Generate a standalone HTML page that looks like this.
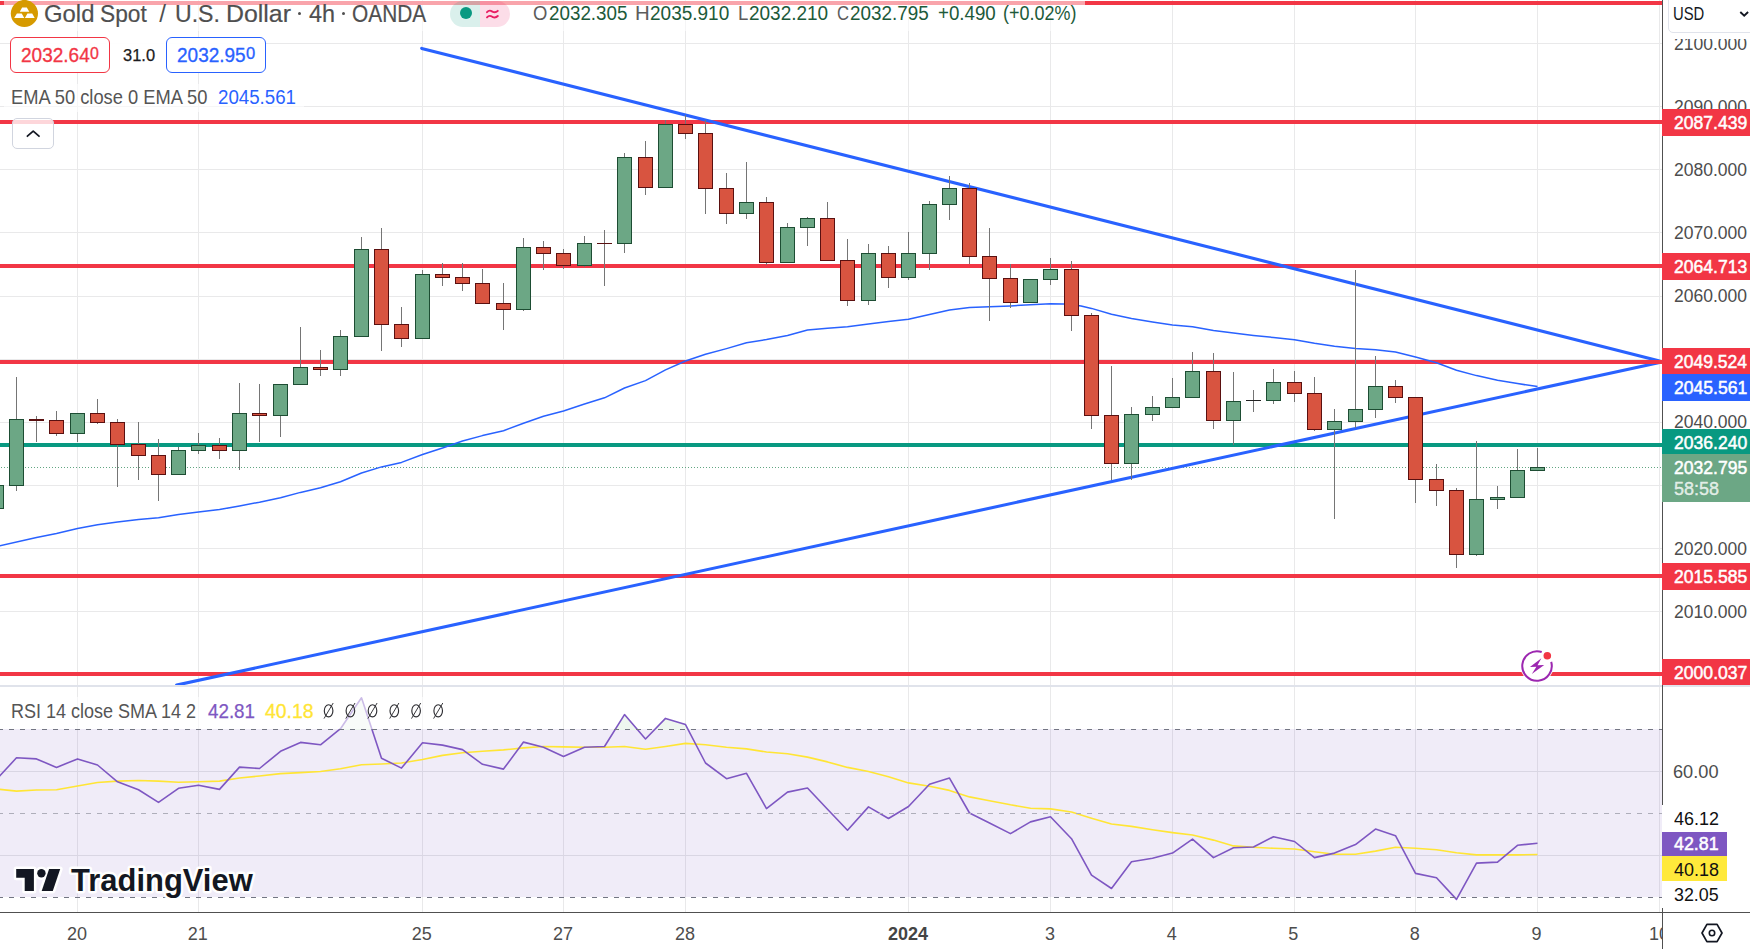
<!DOCTYPE html>
<html><head><meta charset="utf-8"><title>XAUUSD</title>
<style>
html,body{margin:0;padding:0;background:#fff;}
body{width:1750px;height:949px;overflow:hidden;position:relative;font-family:"Liberation Sans",sans-serif;}
#chart{position:absolute;left:0;top:0;}
.t{position:absolute;white-space:nowrap;transform-origin:0 0;}
</style></head><body>
<svg id="chart" width="1750" height="949" viewBox="0 0 1750 949">
<rect x="77" y="0" width="1" height="912" fill="#e9e9ea"/>
<rect x="198" y="0" width="1" height="912" fill="#e9e9ea"/>
<rect x="422" y="0" width="1" height="912" fill="#e9e9ea"/>
<rect x="563" y="0" width="1" height="912" fill="#e9e9ea"/>
<rect x="685" y="0" width="1" height="912" fill="#e9e9ea"/>
<rect x="908" y="0" width="1" height="912" fill="#e9e9ea"/>
<rect x="1050" y="0" width="1" height="912" fill="#e9e9ea"/>
<rect x="1172" y="0" width="1" height="912" fill="#e9e9ea"/>
<rect x="1294" y="0" width="1" height="912" fill="#e9e9ea"/>
<rect x="1415" y="0" width="1" height="912" fill="#e9e9ea"/>
<rect x="1537" y="0" width="1" height="912" fill="#e9e9ea"/>
<rect x="1659" y="0" width="1" height="912" fill="#e9e9ea"/>
<rect x="0" y="43" width="1662" height="1" fill="#e9e9ea"/>
<rect x="0" y="106" width="1662" height="1" fill="#e9e9ea"/>
<rect x="0" y="169" width="1662" height="1" fill="#e9e9ea"/>
<rect x="0" y="232" width="1662" height="1" fill="#e9e9ea"/>
<rect x="0" y="296" width="1662" height="1" fill="#e9e9ea"/>
<rect x="0" y="359" width="1662" height="1" fill="#e9e9ea"/>
<rect x="0" y="422" width="1662" height="1" fill="#e9e9ea"/>
<rect x="0" y="485" width="1662" height="1" fill="#e9e9ea"/>
<rect x="0" y="548" width="1662" height="1" fill="#e9e9ea"/>
<rect x="0" y="611" width="1662" height="1" fill="#e9e9ea"/>
<rect x="0" y="674" width="1662" height="1" fill="#e9e9ea"/>
<rect x="0" y="729" width="1662" height="168" fill="#7e57c2" fill-opacity="0.115"/>
<rect x="0" y="771" width="1662" height="1" fill="#d9d6e3"/>
<rect x="0" y="855" width="1662" height="1" fill="#d9d6e3"/>
<rect x="0" y="1.0" width="1662" height="4" fill="#f23645"/>
<rect x="0" y="120.0" width="1662" height="4" fill="#f23645"/>
<rect x="0" y="264.0" width="1662" height="4" fill="#f23645"/>
<rect x="0" y="574.0" width="1662" height="4" fill="#f23645"/>
<rect x="0" y="672.0" width="1662" height="4" fill="#f23645"/>
<rect x="0" y="443.0" width="1662" height="4" fill="#089981"/>
<line x1="1" y1="467.5" x2="1662" y2="467.5" stroke="#62a682" stroke-width="1" stroke-dasharray="1 2" shape-rendering="crispEdges"/>
<g clip-path="url(#pane)">
<line x1="421.7" y1="48.4" x2="1659.6" y2="360.9" stroke="#2962ff" stroke-width="3.1" stroke-linecap="round"/>
<line x1="176.6" y1="685.1" x2="1659.6" y2="362.4" stroke="#2962ff" stroke-width="3.1" stroke-linecap="round"/>
</g>
<rect x="0" y="360.0" width="1662" height="4" fill="#f23645"/>
<polyline fill="none" stroke="#2962ff" stroke-width="1.5" stroke-linejoin="round" points="-3.5,548 -3.5,546.6 36.5,537.6 56.5,533.5 77.5,528.5 97.5,524.8 117.5,522 138.5,519.5 158.5,517.8 178.5,514.6 198.5,512.1 219.5,509.6 239.5,505.9 259.5,502.2 280.5,497.7 300.5,492.4 320.5,487.8 340.5,481.7 361.5,473 381.5,466.9 401.5,462.4 422.5,454.5 442.5,448 462.5,441 482.5,435.6 503.5,430.7 523.5,423.3 543.5,416.3 563.5,411 584.5,404 604.5,397.8 624.5,388 645.5,380.6 665.5,369.9 685.5,361 705.5,354.2 726.5,348.6 746.5,342.8 766.5,339.5 787.5,335.5 807.5,330 827.5,328.3 847.5,326.7 868.5,323.9 888.5,321.6 908.5,319.3 929.5,314.5 949.5,310 969.5,307.4 989.5,306.7 1010.5,305.9 1030.5,304.8 1050.5,303.8 1063.4,304.1 1071.5,304.6 1081.1,305.9 1091.5,308.4 1111.5,314.2 1131.5,318.5 1152.5,322 1172.5,325.1 1192.5,326.8 1213.5,330.4 1233.5,332.9 1253.5,335.4 1273.5,337.5 1294.5,339.7 1314.5,343.3 1334.5,346.3 1355.5,348.6 1375.5,349.8 1395.5,351.9 1415.5,357 1436.5,362.7 1456.5,370.3 1476.5,375.6 1497.5,380.3 1517.5,383.6 1537.5,386.6"/>
<g shape-rendering="crispEdges">
<rect x="-4" y="485" width="1" height="24" fill="#757575"/>
<rect x="-11" y="485" width="15" height="24" fill="#1d4d33"/>
<rect x="-10" y="486" width="13" height="22" fill="#6ca785"/>
<rect x="16" y="377" width="1" height="114" fill="#757575"/>
<rect x="9" y="419" width="15" height="67" fill="#1d4d33"/>
<rect x="10" y="420" width="13" height="65" fill="#6ca785"/>
<rect x="36" y="416" width="1" height="26" fill="#757575"/>
<rect x="29" y="419" width="15" height="2" fill="#5a1010"/>
<rect x="56" y="411" width="1" height="25" fill="#757575"/>
<rect x="49" y="420" width="15" height="14" fill="#5a1010"/>
<rect x="50" y="421" width="13" height="12" fill="#d85440"/>
<rect x="77" y="413" width="1" height="29" fill="#757575"/>
<rect x="70" y="413" width="15" height="21" fill="#1d4d33"/>
<rect x="71" y="414" width="13" height="19" fill="#6ca785"/>
<rect x="97" y="399" width="1" height="25" fill="#757575"/>
<rect x="90" y="413" width="15" height="10" fill="#5a1010"/>
<rect x="91" y="414" width="13" height="8" fill="#d85440"/>
<rect x="117" y="419" width="1" height="68" fill="#757575"/>
<rect x="110" y="422" width="15" height="23" fill="#5a1010"/>
<rect x="111" y="423" width="13" height="21" fill="#d85440"/>
<rect x="138" y="422" width="1" height="58" fill="#757575"/>
<rect x="131" y="444" width="15" height="12" fill="#5a1010"/>
<rect x="132" y="445" width="13" height="10" fill="#d85440"/>
<rect x="158" y="439" width="1" height="62" fill="#757575"/>
<rect x="151" y="455" width="15" height="20" fill="#5a1010"/>
<rect x="152" y="456" width="13" height="18" fill="#d85440"/>
<rect x="178" y="447" width="1" height="28" fill="#757575"/>
<rect x="171" y="450" width="15" height="25" fill="#1d4d33"/>
<rect x="172" y="451" width="13" height="23" fill="#6ca785"/>
<rect x="198" y="433" width="1" height="21" fill="#757575"/>
<rect x="191" y="445" width="15" height="6" fill="#1d4d33"/>
<rect x="192" y="446" width="13" height="4" fill="#6ca785"/>
<rect x="219" y="438" width="1" height="21" fill="#757575"/>
<rect x="212" y="445" width="15" height="6" fill="#5a1010"/>
<rect x="213" y="446" width="13" height="4" fill="#d85440"/>
<rect x="239" y="383" width="1" height="87" fill="#757575"/>
<rect x="232" y="413" width="15" height="38" fill="#1d4d33"/>
<rect x="233" y="414" width="13" height="36" fill="#6ca785"/>
<rect x="259" y="384" width="1" height="58" fill="#757575"/>
<rect x="252" y="413" width="15" height="3" fill="#5a1010"/>
<rect x="253" y="414" width="13" height="1" fill="#d85440"/>
<rect x="280" y="384" width="1" height="53" fill="#757575"/>
<rect x="273" y="384" width="15" height="32" fill="#1d4d33"/>
<rect x="274" y="385" width="13" height="30" fill="#6ca785"/>
<rect x="300" y="327" width="1" height="58" fill="#757575"/>
<rect x="293" y="367" width="15" height="18" fill="#1d4d33"/>
<rect x="294" y="368" width="13" height="16" fill="#6ca785"/>
<rect x="320" y="350" width="1" height="26" fill="#757575"/>
<rect x="313" y="367" width="15" height="3" fill="#5a1010"/>
<rect x="314" y="368" width="13" height="1" fill="#d85440"/>
<rect x="340" y="330" width="1" height="46" fill="#757575"/>
<rect x="333" y="336" width="15" height="34" fill="#1d4d33"/>
<rect x="334" y="337" width="13" height="32" fill="#6ca785"/>
<rect x="361" y="237" width="1" height="100" fill="#757575"/>
<rect x="354" y="249" width="15" height="88" fill="#1d4d33"/>
<rect x="355" y="250" width="13" height="86" fill="#6ca785"/>
<rect x="381" y="228" width="1" height="123" fill="#757575"/>
<rect x="374" y="249" width="15" height="76" fill="#5a1010"/>
<rect x="375" y="250" width="13" height="74" fill="#d85440"/>
<rect x="401" y="307" width="1" height="40" fill="#757575"/>
<rect x="394" y="324" width="15" height="15" fill="#5a1010"/>
<rect x="395" y="325" width="13" height="13" fill="#d85440"/>
<rect x="422" y="270" width="1" height="69" fill="#757575"/>
<rect x="415" y="274" width="15" height="65" fill="#1d4d33"/>
<rect x="416" y="275" width="13" height="63" fill="#6ca785"/>
<rect x="442" y="263" width="1" height="23" fill="#757575"/>
<rect x="435" y="274" width="15" height="4" fill="#5a1010"/>
<rect x="436" y="275" width="13" height="2" fill="#d85440"/>
<rect x="462" y="263" width="1" height="28" fill="#757575"/>
<rect x="455" y="277" width="15" height="7" fill="#5a1010"/>
<rect x="456" y="278" width="13" height="5" fill="#d85440"/>
<rect x="482" y="269" width="1" height="35" fill="#757575"/>
<rect x="475" y="283" width="15" height="21" fill="#5a1010"/>
<rect x="476" y="284" width="13" height="19" fill="#d85440"/>
<rect x="503" y="283" width="1" height="47" fill="#757575"/>
<rect x="496" y="303" width="15" height="7" fill="#5a1010"/>
<rect x="497" y="304" width="13" height="5" fill="#d85440"/>
<rect x="523" y="238" width="1" height="73" fill="#757575"/>
<rect x="516" y="247" width="15" height="63" fill="#1d4d33"/>
<rect x="517" y="248" width="13" height="61" fill="#6ca785"/>
<rect x="543" y="241" width="1" height="29" fill="#757575"/>
<rect x="536" y="247" width="15" height="7" fill="#5a1010"/>
<rect x="537" y="248" width="13" height="5" fill="#d85440"/>
<rect x="563" y="249" width="1" height="20" fill="#757575"/>
<rect x="556" y="253" width="15" height="13" fill="#5a1010"/>
<rect x="557" y="254" width="13" height="11" fill="#d85440"/>
<rect x="584" y="236" width="1" height="31" fill="#757575"/>
<rect x="577" y="243" width="15" height="23" fill="#1d4d33"/>
<rect x="578" y="244" width="13" height="21" fill="#6ca785"/>
<rect x="604" y="230" width="1" height="56" fill="#757575"/>
<rect x="597" y="243" width="15" height="1" fill="#5a1010"/>
<rect x="624" y="153" width="1" height="100" fill="#757575"/>
<rect x="617" y="157" width="15" height="87" fill="#1d4d33"/>
<rect x="618" y="158" width="13" height="85" fill="#6ca785"/>
<rect x="645" y="141" width="1" height="54" fill="#757575"/>
<rect x="638" y="157" width="15" height="31" fill="#5a1010"/>
<rect x="639" y="158" width="13" height="29" fill="#d85440"/>
<rect x="665" y="120" width="1" height="68" fill="#757575"/>
<rect x="658" y="124" width="15" height="64" fill="#1d4d33"/>
<rect x="659" y="125" width="13" height="62" fill="#6ca785"/>
<rect x="685" y="115" width="1" height="24" fill="#757575"/>
<rect x="678" y="124" width="15" height="10" fill="#5a1010"/>
<rect x="679" y="125" width="13" height="8" fill="#d85440"/>
<rect x="705" y="120" width="1" height="94" fill="#757575"/>
<rect x="698" y="133" width="15" height="56" fill="#5a1010"/>
<rect x="699" y="134" width="13" height="54" fill="#d85440"/>
<rect x="726" y="173" width="1" height="51" fill="#757575"/>
<rect x="719" y="188" width="15" height="26" fill="#5a1010"/>
<rect x="720" y="189" width="13" height="24" fill="#d85440"/>
<rect x="746" y="162" width="1" height="57" fill="#757575"/>
<rect x="739" y="202" width="15" height="12" fill="#1d4d33"/>
<rect x="740" y="203" width="13" height="10" fill="#6ca785"/>
<rect x="766" y="197" width="1" height="68" fill="#757575"/>
<rect x="759" y="202" width="15" height="61" fill="#5a1010"/>
<rect x="760" y="203" width="13" height="59" fill="#d85440"/>
<rect x="787" y="223" width="1" height="40" fill="#757575"/>
<rect x="780" y="227" width="15" height="36" fill="#1d4d33"/>
<rect x="781" y="228" width="13" height="34" fill="#6ca785"/>
<rect x="807" y="217" width="1" height="29" fill="#757575"/>
<rect x="800" y="218" width="15" height="10" fill="#1d4d33"/>
<rect x="801" y="219" width="13" height="8" fill="#6ca785"/>
<rect x="827" y="202" width="1" height="59" fill="#757575"/>
<rect x="820" y="218" width="15" height="43" fill="#5a1010"/>
<rect x="821" y="219" width="13" height="41" fill="#d85440"/>
<rect x="847" y="239" width="1" height="67" fill="#757575"/>
<rect x="840" y="260" width="15" height="41" fill="#5a1010"/>
<rect x="841" y="261" width="13" height="39" fill="#d85440"/>
<rect x="868" y="244" width="1" height="61" fill="#757575"/>
<rect x="861" y="253" width="15" height="48" fill="#1d4d33"/>
<rect x="862" y="254" width="13" height="46" fill="#6ca785"/>
<rect x="888" y="246" width="1" height="42" fill="#757575"/>
<rect x="881" y="253" width="15" height="25" fill="#5a1010"/>
<rect x="882" y="254" width="13" height="23" fill="#d85440"/>
<rect x="908" y="232" width="1" height="48" fill="#757575"/>
<rect x="901" y="253" width="15" height="25" fill="#1d4d33"/>
<rect x="902" y="254" width="13" height="23" fill="#6ca785"/>
<rect x="929" y="201" width="1" height="69" fill="#757575"/>
<rect x="922" y="204" width="15" height="50" fill="#1d4d33"/>
<rect x="923" y="205" width="13" height="48" fill="#6ca785"/>
<rect x="949" y="176" width="1" height="44" fill="#757575"/>
<rect x="942" y="188" width="15" height="17" fill="#1d4d33"/>
<rect x="943" y="189" width="13" height="15" fill="#6ca785"/>
<rect x="969" y="183" width="1" height="81" fill="#757575"/>
<rect x="962" y="188" width="15" height="69" fill="#5a1010"/>
<rect x="963" y="189" width="13" height="67" fill="#d85440"/>
<rect x="989" y="228" width="1" height="93" fill="#757575"/>
<rect x="982" y="256" width="15" height="23" fill="#5a1010"/>
<rect x="983" y="257" width="13" height="21" fill="#d85440"/>
<rect x="1010" y="264" width="1" height="44" fill="#757575"/>
<rect x="1003" y="278" width="15" height="25" fill="#5a1010"/>
<rect x="1004" y="279" width="13" height="23" fill="#d85440"/>
<rect x="1030" y="279" width="1" height="24" fill="#757575"/>
<rect x="1023" y="279" width="15" height="24" fill="#1d4d33"/>
<rect x="1024" y="280" width="13" height="22" fill="#6ca785"/>
<rect x="1050" y="258" width="1" height="27" fill="#757575"/>
<rect x="1043" y="269" width="15" height="11" fill="#1d4d33"/>
<rect x="1044" y="270" width="13" height="9" fill="#6ca785"/>
<rect x="1071" y="261" width="1" height="70" fill="#757575"/>
<rect x="1064" y="269" width="15" height="47" fill="#5a1010"/>
<rect x="1065" y="270" width="13" height="45" fill="#d85440"/>
<rect x="1091" y="313" width="1" height="116" fill="#757575"/>
<rect x="1084" y="315" width="15" height="101" fill="#5a1010"/>
<rect x="1085" y="316" width="13" height="99" fill="#d85440"/>
<rect x="1111" y="366" width="1" height="114" fill="#757575"/>
<rect x="1104" y="415" width="15" height="49" fill="#5a1010"/>
<rect x="1105" y="416" width="13" height="47" fill="#d85440"/>
<rect x="1131" y="407" width="1" height="73" fill="#757575"/>
<rect x="1124" y="414" width="15" height="50" fill="#1d4d33"/>
<rect x="1125" y="415" width="13" height="48" fill="#6ca785"/>
<rect x="1152" y="396" width="1" height="25" fill="#757575"/>
<rect x="1145" y="407" width="15" height="8" fill="#1d4d33"/>
<rect x="1146" y="408" width="13" height="6" fill="#6ca785"/>
<rect x="1172" y="378" width="1" height="30" fill="#757575"/>
<rect x="1165" y="397" width="15" height="11" fill="#1d4d33"/>
<rect x="1166" y="398" width="13" height="9" fill="#6ca785"/>
<rect x="1192" y="352" width="1" height="46" fill="#757575"/>
<rect x="1185" y="371" width="15" height="27" fill="#1d4d33"/>
<rect x="1186" y="372" width="13" height="25" fill="#6ca785"/>
<rect x="1213" y="353" width="1" height="76" fill="#757575"/>
<rect x="1206" y="371" width="15" height="50" fill="#5a1010"/>
<rect x="1207" y="372" width="13" height="48" fill="#d85440"/>
<rect x="1233" y="372" width="1" height="73" fill="#757575"/>
<rect x="1226" y="401" width="15" height="20" fill="#1d4d33"/>
<rect x="1227" y="402" width="13" height="18" fill="#6ca785"/>
<rect x="1253" y="390" width="1" height="22" fill="#757575"/>
<rect x="1246" y="400" width="15" height="1" fill="#222"/>
<rect x="1273" y="369" width="1" height="35" fill="#757575"/>
<rect x="1266" y="382" width="15" height="19" fill="#1d4d33"/>
<rect x="1267" y="383" width="13" height="17" fill="#6ca785"/>
<rect x="1294" y="371" width="1" height="31" fill="#757575"/>
<rect x="1287" y="382" width="15" height="12" fill="#5a1010"/>
<rect x="1288" y="383" width="13" height="10" fill="#d85440"/>
<rect x="1314" y="377" width="1" height="54" fill="#757575"/>
<rect x="1307" y="393" width="15" height="37" fill="#5a1010"/>
<rect x="1308" y="394" width="13" height="35" fill="#d85440"/>
<rect x="1334" y="409" width="1" height="110" fill="#757575"/>
<rect x="1327" y="421" width="15" height="9" fill="#1d4d33"/>
<rect x="1328" y="422" width="13" height="7" fill="#6ca785"/>
<rect x="1355" y="270" width="1" height="158" fill="#757575"/>
<rect x="1348" y="409" width="15" height="13" fill="#1d4d33"/>
<rect x="1349" y="410" width="13" height="11" fill="#6ca785"/>
<rect x="1375" y="356" width="1" height="62" fill="#757575"/>
<rect x="1368" y="386" width="15" height="24" fill="#1d4d33"/>
<rect x="1369" y="387" width="13" height="22" fill="#6ca785"/>
<rect x="1395" y="380" width="1" height="23" fill="#757575"/>
<rect x="1388" y="386" width="15" height="12" fill="#5a1010"/>
<rect x="1389" y="387" width="13" height="10" fill="#d85440"/>
<rect x="1415" y="397" width="1" height="106" fill="#757575"/>
<rect x="1408" y="397" width="15" height="83" fill="#5a1010"/>
<rect x="1409" y="398" width="13" height="81" fill="#d85440"/>
<rect x="1436" y="464" width="1" height="42" fill="#757575"/>
<rect x="1429" y="479" width="15" height="12" fill="#5a1010"/>
<rect x="1430" y="480" width="13" height="10" fill="#d85440"/>
<rect x="1456" y="488" width="1" height="80" fill="#757575"/>
<rect x="1449" y="490" width="15" height="65" fill="#5a1010"/>
<rect x="1450" y="491" width="13" height="63" fill="#d85440"/>
<rect x="1476" y="441" width="1" height="115" fill="#757575"/>
<rect x="1469" y="499" width="15" height="56" fill="#1d4d33"/>
<rect x="1470" y="500" width="13" height="54" fill="#6ca785"/>
<rect x="1497" y="486" width="1" height="23" fill="#757575"/>
<rect x="1490" y="497" width="15" height="3" fill="#1d4d33"/>
<rect x="1491" y="498" width="13" height="1" fill="#6ca785"/>
<rect x="1517" y="449" width="1" height="49" fill="#757575"/>
<rect x="1510" y="470" width="15" height="28" fill="#1d4d33"/>
<rect x="1511" y="471" width="13" height="26" fill="#6ca785"/>
<rect x="1537" y="448" width="1" height="23" fill="#757575"/>
<rect x="1530" y="467" width="15" height="4" fill="#1d4d33"/>
<rect x="1531" y="468" width="13" height="2" fill="#6ca785"/>
</g>
<defs><clipPath id="ob"><rect x="0" y="686" width="1662" height="44"/></clipPath><clipPath id="pane"><rect x="0" y="0" width="1662" height="685"/></clipPath><linearGradient id="obg" x1="0" y1="0" x2="0" y2="1"><stop offset="0" stop-color="#4caf50" stop-opacity="0.25"/><stop offset="1" stop-color="#4caf50" stop-opacity="0"/></linearGradient></defs>
<polygon clip-path="url(#ob)" fill="#eef6ef" points="-3.5,782 -3.5,779.4 16.5,757.8 36.5,758.9 56.5,767.4 77.5,758.9 97.5,765 117.5,781.8 138.5,789.7 158.5,802.4 178.5,788.3 198.5,785.3 219.5,789.4 239.5,767.1 259.5,768.5 280.5,751.3 300.5,742.4 320.5,744.8 340.5,728.7 361.5,697.8 381.5,758.2 401.5,768.1 422.5,742.7 442.5,745.1 462.5,749.6 482.5,764.3 503.5,769.1 523.5,742.1 543.5,747.2 563.5,756.5 584.5,747.2 604.5,746.5 624.5,714.6 645.5,739 665.5,718.4 685.5,724.6 705.5,763 726.5,778.7 746.5,773.3 766.5,808.6 787.5,792.1 807.5,788 827.5,809.3 847.5,830.2 868.5,806.9 888.5,818.5 908.5,806.5 929.5,784.2 949.5,778.1 969.5,813 989.5,823 1010.5,833.6 1030.5,821.9 1050.5,816.8 1071.5,838.7 1091.5,875.1 1111.5,888.5 1131.5,861.7 1152.5,858.3 1172.5,853.1 1192.5,839.1 1213.5,857.6 1233.5,847.7 1253.5,847 1273.5,836.7 1294.5,841.5 1314.5,857.6 1334.5,853.1 1355.5,844.6 1375.5,829.1 1395.5,835.7 1415.5,873.4 1436.5,877.8 1456.5,899.4 1476.5,863.1 1497.5,862.1 1517.5,845.3 1537.5,843.2 1537.6,730 -4,730"/>
<polyline fill="none" stroke="#ffe535" stroke-width="1.6" stroke-linejoin="round" points="-3.5,788.5 -3.5,789 16.5,791.1 36.5,790 56.5,789.7 77.5,786 97.5,782.5 117.5,781.1 138.5,780.5 158.5,781.1 178.5,782.2 198.5,781.8 219.5,781.1 239.5,778 259.5,776 280.5,773.6 300.5,772.6 320.5,771.5 340.5,768.8 361.5,764.7 381.5,764 401.5,763 422.5,759.5 442.5,755.4 462.5,752.7 482.5,751.3 503.5,749.9 523.5,747.9 543.5,746.5 563.5,746.9 584.5,747.2 604.5,747.2 624.5,746.5 645.5,749.3 665.5,746.5 685.5,743.4 705.5,744.8 726.5,747.2 746.5,748.9 766.5,752 787.5,753.7 807.5,757.1 827.5,761.9 847.5,767.4 868.5,771.5 888.5,776.7 908.5,782.9 929.5,786.3 949.5,790.4 969.5,796.9 989.5,800.7 1010.5,804.8 1030.5,808.2 1050.5,808.9 1071.5,812 1091.5,818.2 1111.5,824 1131.5,826.4 1152.5,829.8 1172.5,832.6 1192.5,835 1213.5,840.1 1233.5,845.9 1253.5,847.3 1273.5,848.3 1294.5,849 1314.5,851.8 1334.5,854.2 1355.5,854.2 1375.5,851.1 1395.5,847.3 1415.5,848.3 1436.5,849.7 1456.5,852.8 1476.5,854.9 1497.5,854.9 1517.5,854.9 1537.5,854.5"/>
<polyline fill="none" stroke="#7e57c2" stroke-width="1.6" stroke-linejoin="round" points="-3.5,782 -3.5,779.4 16.5,757.8 36.5,758.9 56.5,767.4 77.5,758.9 97.5,765 117.5,781.8 138.5,789.7 158.5,802.4 178.5,788.3 198.5,785.3 219.5,789.4 239.5,767.1 259.5,768.5 280.5,751.3 300.5,742.4 320.5,744.8 340.5,728.7 361.5,697.8 381.5,758.2 401.5,768.1 422.5,742.7 442.5,745.1 462.5,749.6 482.5,764.3 503.5,769.1 523.5,742.1 543.5,747.2 563.5,756.5 584.5,747.2 604.5,746.5 624.5,714.6 645.5,739 665.5,718.4 685.5,724.6 705.5,763 726.5,778.7 746.5,773.3 766.5,808.6 787.5,792.1 807.5,788 827.5,809.3 847.5,830.2 868.5,806.9 888.5,818.5 908.5,806.5 929.5,784.2 949.5,778.1 969.5,813 989.5,823 1010.5,833.6 1030.5,821.9 1050.5,816.8 1071.5,838.7 1091.5,875.1 1111.5,888.5 1131.5,861.7 1152.5,858.3 1172.5,853.1 1192.5,839.1 1213.5,857.6 1233.5,847.7 1253.5,847 1273.5,836.7 1294.5,841.5 1314.5,857.6 1334.5,853.1 1355.5,844.6 1375.5,829.1 1395.5,835.7 1415.5,873.4 1436.5,877.8 1456.5,899.4 1476.5,863.1 1497.5,862.1 1517.5,845.3 1537.5,843.2"/>
<line x1="0" y1="729.5" x2="1662" y2="729.5" stroke="#737683" stroke-width="1" stroke-dasharray="5 6" stroke-dashoffset="2" shape-rendering="crispEdges"/>
<line x1="0" y1="813.5" x2="1662" y2="813.5" stroke="#aeaeba" stroke-width="1" stroke-dasharray="5 6" stroke-dashoffset="2" shape-rendering="crispEdges"/>
<line x1="0" y1="897.5" x2="1662" y2="897.5" stroke="#737683" stroke-width="1" stroke-dasharray="5 6" stroke-dashoffset="2" shape-rendering="crispEdges"/>
<rect x="0" y="685" width="1750" height="2" fill="#e0e3eb"/>
<rect x="0" y="912" width="1750" height="1" fill="#505050"/>
<rect x="1662" y="0" width="1" height="949" fill="#505050"/>
</svg>
<div style="position:absolute;left:4px;top:0;width:1080.5px;height:31px;background:rgba(255,255,255,0.55);"></div>
<div style="position:absolute;left:4px;top:84px;width:300px;height:28px;background:rgba(255,255,255,0.6);"></div>
<div style="position:absolute;left:4px;top:697px;width:448px;height:32px;background:rgba(255,255,255,0.6);"></div>
<div style="position:absolute;left:10px;top:37px;width:256px;height:36px;border-radius:6px;background:rgba(255,255,255,0.95);"></div>
<svg style="position:absolute;left:0;top:0" width="40" height="30" viewBox="0 0 40 30"><circle cx="24.4" cy="13.5" r="13.6" fill="#d69a00"/><path d="M22.1 7.4H26.8L29.3 11.8H19.8Z M16.9 13.5H21.7L24.3 17.9H14.2Z M27.4 13.5H32.2L34.7 17.9H24.9Z" fill="#fff"/></svg>
<div class="t" style="left:43.71px;top:-1.75px;font-size:24.2px;line-height:31px;color:#4f4f4f;transform:scaleX(0.9868);-webkit-text-stroke:0.2px #4f4f4f;">Gold</div>
<div class="t" style="left:100.48px;top:-1.75px;font-size:24.2px;line-height:31px;color:#4f4f4f;transform:scaleX(0.9398);-webkit-text-stroke:0.2px #4f4f4f;">Spot</div>
<div class="t" style="left:159.20px;top:-1.75px;font-size:24.2px;line-height:31px;color:#4f4f4f;">/</div>
<div class="t" style="left:174.81px;top:-1.75px;font-size:24.2px;line-height:31px;color:#4f4f4f;transform:scaleX(0.9555);-webkit-text-stroke:0.2px #4f4f4f;">U.S.</div>
<div class="t" style="left:225.95px;top:-1.75px;font-size:24.2px;line-height:31px;color:#4f4f4f;transform:scaleX(1.0285);-webkit-text-stroke:0.2px #4f4f4f;">Dollar</div>
<div class="t" style="left:308.97px;top:-1.75px;font-size:24.2px;line-height:31px;color:#4f4f4f;transform:scaleX(0.9675);-webkit-text-stroke:0.2px #4f4f4f;">4h</div>
<div class="t" style="left:352.41px;top:-1.75px;font-size:24.2px;line-height:31px;color:#4f4f4f;transform:scaleX(0.8624);-webkit-text-stroke:0.2px #4f4f4f;">OANDA</div>
<div style="position:absolute;left:298.0px;top:12px;width:3.4px;height:3.4px;border-radius:2px;background:#4f4f4f"></div>
<div style="position:absolute;left:341.7px;top:12px;width:3.4px;height:3.4px;border-radius:2px;background:#4f4f4f"></div>
<div style="position:absolute;left:450px;top:1px;width:60px;height:26px;border-radius:13px;overflow:hidden;"><div style="position:absolute;left:0;top:0;width:30px;height:26px;background:rgba(8,153,129,0.15);"></div><div style="position:absolute;left:30px;top:0;width:30px;height:26px;background:rgba(233,30,99,0.15);"></div><div style="position:absolute;left:10px;top:6px;width:12px;height:12px;border-radius:6px;background:#089981;"></div><svg style="position:absolute;left:35px;top:5px" width="16" height="16" viewBox="0 0 16 16"><path d="M2 6.2c2.2-2.4 3.6-1.6 5.4-0.6s3.2 1.4 5.4-0.8M2 11.4c2.2-2.4 3.6-1.6 5.4-0.6s3.2 1.4 5.4-0.8" fill="none" stroke="#e91e63" stroke-width="1.9" stroke-linecap="round"/></svg></div>
<div class="t" style="left:533.12px;top:0.25px;font-size:19.7px;line-height:26px;color:#5c5c5c;transform:scaleX(0.9371);">O</div>
<div class="t" style="left:548.56px;top:0.25px;font-size:19.7px;line-height:26px;color:#1d5a3a;transform:scaleX(0.9555);">2032.305</div>
<div class="t" style="left:635.21px;top:0.25px;font-size:19.7px;line-height:26px;color:#5c5c5c;transform:scaleX(1.0380);">H</div>
<div class="t" style="left:650.25px;top:0.25px;font-size:19.7px;line-height:26px;color:#1d5a3a;transform:scaleX(0.9649);">2035.910</div>
<div class="t" style="left:737.86px;top:0.25px;font-size:19.7px;line-height:26px;color:#5c5c5c;transform:scaleX(0.9460);">L</div>
<div class="t" style="left:748.95px;top:0.25px;font-size:19.7px;line-height:26px;color:#1d5a3a;transform:scaleX(0.9636);">2032.210</div>
<div class="t" style="left:836.57px;top:0.25px;font-size:19.7px;line-height:26px;color:#5c5c5c;transform:scaleX(0.8474);">C</div>
<div class="t" style="left:850.16px;top:0.25px;font-size:19.7px;line-height:26px;color:#1d5a3a;transform:scaleX(0.9592);">2032.795</div>
<div class="t" style="left:938.31px;top:0.25px;font-size:19.7px;line-height:26px;color:#1d5a3a;transform:scaleX(0.9509);">+0.490</div>
<div class="t" style="left:1002.88px;top:0.25px;font-size:19.7px;line-height:26px;color:#1d5a3a;transform:scaleX(0.9121);">(+0.02%)</div>
<div style="position:absolute;left:10px;top:37px;width:98px;height:34px;border:1px solid #f23645;border-radius:6px;"></div>
<div class="t" style="left:21.15px;top:42.95px;font-size:19.5px;line-height:25px;color:#f23645;transform:scaleX(0.9749);-webkit-text-stroke:0.3px #f23645;">2032.64</div>
<div class="t" style="left:90.06px;top:42.85px;font-size:16.2px;line-height:21px;color:#f23645;transform:scaleX(0.9825);-webkit-text-stroke:0.3px #f23645;">0</div>
<div class="t" style="left:122.68px;top:44.85px;font-size:16.4px;line-height:21px;color:#1b1b20;transform:scaleX(1.0043);-webkit-text-stroke:0.25px #1b1b20;">31.0</div>
<div style="position:absolute;left:166px;top:37px;width:98px;height:34px;border:1px solid #2962ff;border-radius:6px;"></div>
<div class="t" style="left:177.45px;top:42.95px;font-size:19.5px;line-height:25px;color:#2962ff;transform:scaleX(0.9740);-webkit-text-stroke:0.3px #2962ff;">2032.95</div>
<div class="t" style="left:246.34px;top:42.85px;font-size:16.2px;line-height:21px;color:#2962ff;transform:scaleX(1.0213);-webkit-text-stroke:0.3px #2962ff;">0</div>
<div class="t" style="left:10.69px;top:84.45px;font-size:19.8px;line-height:26px;color:#555;transform:scaleX(0.9256);">EMA 50 close 0 EMA 50</div>
<div class="t" style="left:218.06px;top:84.45px;font-size:19.7px;line-height:26px;color:#2962ff;transform:scaleX(0.9498);">2045.561</div>
<div style="position:absolute;left:12px;top:118px;width:40px;height:29px;border:1px solid #d1d5df;border-radius:5px;background:rgba(255,255,255,0.8);"></div>
<svg style="position:absolute;left:24px;top:126px" width="18" height="14" viewBox="0 0 18 14"><path d="M3.4 10.2L9.2 5.1l5.8 5.1" fill="none" stroke="#131722" stroke-width="1.75" stroke-linecap="round" stroke-linejoin="round"/></svg>
<div class="t" style="left:1673.82px;top:32.75px;font-size:18px;line-height:23px;color:#4d4d4d;transform:scaleX(0.9730);">2100.000</div>
<div class="t" style="left:1673.82px;top:95.85px;font-size:18px;line-height:23px;color:#4d4d4d;transform:scaleX(0.9730);">2090.000</div>
<div class="t" style="left:1673.82px;top:158.95px;font-size:18px;line-height:23px;color:#4d4d4d;transform:scaleX(0.9730);">2080.000</div>
<div class="t" style="left:1673.82px;top:222.05px;font-size:18px;line-height:23px;color:#4d4d4d;transform:scaleX(0.9730);">2070.000</div>
<div class="t" style="left:1673.82px;top:285.15px;font-size:18px;line-height:23px;color:#4d4d4d;transform:scaleX(0.9730);">2060.000</div>
<div class="t" style="left:1673.82px;top:411.35px;font-size:18px;line-height:23px;color:#4d4d4d;transform:scaleX(0.9730);">2040.000</div>
<div class="t" style="left:1673.82px;top:537.55px;font-size:18px;line-height:23px;color:#4d4d4d;transform:scaleX(0.9730);">2020.000</div>
<div class="t" style="left:1673.82px;top:600.65px;font-size:18px;line-height:23px;color:#4d4d4d;transform:scaleX(0.9730);">2010.000</div>
<div style="position:absolute;left:1664px;top:0;width:86px;height:39px;background:#fff;"></div>
<div style="position:absolute;left:1668px;top:-6px;width:90px;height:37px;border:1px solid #e0e3eb;border-radius:5px;"></div>
<div class="t" style="left:1672.75px;top:2.25px;font-size:18.2px;line-height:24px;color:#131722;transform:scaleX(0.8155);">USD</div>
<svg style="position:absolute;left:1738px;top:8px" width="12" height="12" viewBox="0 0 12 12"><path d="M2.3 4L6.2 7.6l3.9-3.6" fill="none" stroke="#131722" stroke-width="1.9"/></svg>
<div style="position:absolute;left:1662px;top:109.1px;width:88px;height:26.7px;background:#f23645;"></div>
<div class="t" style="left:1673.72px;top:111.95px;font-size:18px;line-height:23px;color:#fff;transform:scaleX(0.9761);-webkit-text-stroke:0.5px #fff;">2087.439</div>
<div style="position:absolute;left:1662px;top:253.1px;width:88px;height:26.6px;background:#f23645;"></div>
<div class="t" style="left:1673.72px;top:255.85px;font-size:18px;line-height:23px;color:#fff;transform:scaleX(0.9755);-webkit-text-stroke:0.5px #fff;">2064.713</div>
<div style="position:absolute;left:1662px;top:348px;width:88px;height:25.8px;background:#f23645;"></div>
<div class="t" style="left:1673.73px;top:350.85px;font-size:18px;line-height:23px;color:#fff;transform:scaleX(0.9720);-webkit-text-stroke:0.5px #fff;">2049.524</div>
<div style="position:absolute;left:1662px;top:373.8px;width:88px;height:27.1px;background:#2962ff;"></div>
<div class="t" style="left:1673.72px;top:376.85px;font-size:18px;line-height:23px;color:#fff;transform:scaleX(0.9767);-webkit-text-stroke:0.5px #fff;">2045.561</div>
<div style="position:absolute;left:1662px;top:429.1px;width:88px;height:24.8px;background:#089981;"></div>
<div class="t" style="left:1673.72px;top:431.75px;font-size:18px;line-height:23px;color:#fff;transform:scaleX(0.9743);-webkit-text-stroke:0.5px #fff;">2036.240</div>
<div style="position:absolute;left:1662px;top:453.9px;width:88px;height:48px;background:#6ca785;"></div>
<div class="t" style="left:1673.72px;top:456.75px;font-size:18px;line-height:23px;color:#fff;transform:scaleX(0.9749);-webkit-text-stroke:0.5px #fff;">2032.795</div>
<div class="t" style="left:1674.08px;top:477.65px;font-size:18px;line-height:23px;color:rgba(255,255,255,0.75);-webkit-text-stroke:0.4px rgba(255,255,255,0.75);">58:58</div>
<div style="position:absolute;left:1662px;top:563.1px;width:88px;height:26.6px;background:#f23645;"></div>
<div class="t" style="left:1673.72px;top:565.95px;font-size:18px;line-height:23px;color:#fff;transform:scaleX(0.9749);-webkit-text-stroke:0.5px #fff;">2015.585</div>
<div style="position:absolute;left:1662px;top:659px;width:88px;height:25.8px;background:#f23645;"></div>
<div class="t" style="left:1673.72px;top:661.85px;font-size:18px;line-height:23px;color:#fff;transform:scaleX(0.9773);-webkit-text-stroke:0.5px #fff;">2000.037</div>
<svg style="position:absolute;left:1517.1px;top:645.8px" width="40" height="40" viewBox="-20 -20 40 40"><circle cx="0" cy="0" r="16.6" fill="#fff"/><path d="M14.2 -4.1A14.75 14.75 0 1 1 4.7 -14" fill="none" stroke="#9c27b0" stroke-width="2"/><path d="M4.4 -7.7L-7.1 1.1L-0.6 0.7L-5.2 8.1L7.2 -1.1L0.5 -0.7Z" fill="#9c27b0"/><circle cx="10.3" cy="-10.3" r="3.8" fill="#f23645"/></svg>
<div class="t" style="left:10.71px;top:698.45px;font-size:19.8px;line-height:26px;color:#555;transform:scaleX(0.9101);">RSI 14 close SMA 14 2</div>
<div class="t" style="left:208.08px;top:698.45px;font-size:19.7px;line-height:26px;color:#7e57c2;transform:scaleX(0.9537);-webkit-text-stroke:0.25px #7e57c2;">42.81</div>
<div class="t" style="left:265.06px;top:698.45px;font-size:19.7px;line-height:26px;color:#ffe535;transform:scaleX(0.9850);-webkit-text-stroke:0.3px #ffe535;">40.18</div>
<svg style="position:absolute;left:320px;top:700px" width="130" height="22" viewBox="320 700 130 22"><ellipse cx="328.6" cy="710.8" rx="4.3" ry="6.1" fill="none" stroke="#2e2e33" stroke-width="1.15"/><line x1="324.0" y1="718.6" x2="333.20000000000005" y2="703" stroke="#2e2e33" stroke-width="0.95"/><ellipse cx="350.4" cy="710.8" rx="4.3" ry="6.1" fill="none" stroke="#2e2e33" stroke-width="1.15"/><line x1="345.79999999999995" y1="718.6" x2="355.0" y2="703" stroke="#2e2e33" stroke-width="0.95"/><ellipse cx="372.5" cy="710.8" rx="4.3" ry="6.1" fill="none" stroke="#2e2e33" stroke-width="1.15"/><line x1="367.9" y1="718.6" x2="377.1" y2="703" stroke="#2e2e33" stroke-width="0.95"/><ellipse cx="394.3" cy="710.8" rx="4.3" ry="6.1" fill="none" stroke="#2e2e33" stroke-width="1.15"/><line x1="389.7" y1="718.6" x2="398.90000000000003" y2="703" stroke="#2e2e33" stroke-width="0.95"/><ellipse cx="416.1" cy="710.8" rx="4.3" ry="6.1" fill="none" stroke="#2e2e33" stroke-width="1.15"/><line x1="411.5" y1="718.6" x2="420.70000000000005" y2="703" stroke="#2e2e33" stroke-width="0.95"/><ellipse cx="438.2" cy="710.8" rx="4.3" ry="6.1" fill="none" stroke="#2e2e33" stroke-width="1.15"/><line x1="433.59999999999997" y1="718.6" x2="442.8" y2="703" stroke="#2e2e33" stroke-width="0.95"/></svg>
<div class="t" style="left:1673.29px;top:760.85px;font-size:18px;line-height:23px;color:#4d4d4d;transform:scaleX(1.0099);">60.00</div>
<div style="position:absolute;left:1662px;top:805px;width:88px;height:103px;background:#fff;"></div>
<div class="t" style="left:1673.80px;top:807.75px;font-size:18px;line-height:23px;color:#111;transform:scaleX(0.9968);">46.12</div>
<div style="position:absolute;left:1662px;top:831.9px;width:65px;height:23.9px;background:#7e57c2;"></div>
<div class="t" style="left:1673.50px;top:833.05px;font-size:18px;line-height:23px;color:#fff;transform:scaleX(0.9889);-webkit-text-stroke:0.5px #fff;">42.81</div>
<div style="position:absolute;left:1662px;top:855.8px;width:65px;height:25.1px;background:#ffe93b;"></div>
<div class="t" style="left:1673.80px;top:858.75px;font-size:18px;line-height:23px;color:#111;transform:scaleX(0.9960);">40.18</div>
<div class="t" style="left:1673.93px;top:883.95px;font-size:18px;line-height:23px;color:#111;transform:scaleX(0.9920);">32.05</div>
<div class="t" style="left:66.90px;top:922.95px;font-size:18px;line-height:23px;color:#4d4d4d;">20</div>
<div class="t" style="left:187.79px;top:922.95px;font-size:18px;line-height:23px;color:#4d4d4d;">21</div>
<div class="t" style="left:411.72px;top:922.95px;font-size:18px;line-height:23px;color:#4d4d4d;">25</div>
<div class="t" style="left:553.01px;top:922.95px;font-size:18px;line-height:23px;color:#4d4d4d;">27</div>
<div class="t" style="left:674.94px;top:922.95px;font-size:18px;line-height:23px;color:#4d4d4d;">28</div>
<div class="t" style="left:1045.05px;top:922.95px;font-size:18px;line-height:23px;color:#4d4d4d;">3</div>
<div class="t" style="left:1166.65px;top:922.95px;font-size:18px;line-height:23px;color:#4d4d4d;">4</div>
<div class="t" style="left:1288.30px;top:922.95px;font-size:18px;line-height:23px;color:#4d4d4d;">5</div>
<div class="t" style="left:1409.80px;top:922.95px;font-size:18px;line-height:23px;color:#4d4d4d;">8</div>
<div class="t" style="left:1531.58px;top:922.95px;font-size:18px;line-height:23px;color:#4d4d4d;">9</div>
<div class="t" style="left:888.03px;top:922.95px;font-size:18px;line-height:23px;color:#444;font-weight:bold;">2024</div>
<div style="position:absolute;left:1640px;top:915px;width:22px;height:34px;overflow:hidden;"><div class="t" style="left:8.95px;top:7.95px;font-size:18px;line-height:23px;color:#4d4d4d;">10</div></div>
<svg style="position:absolute;left:1699px;top:920px" width="26" height="26" viewBox="-13 -13 26 26"><path d="M-5.1 -8.6L5.1 -8.6L10 0L5.1 8.6L-5.1 8.6L-10 0Z" fill="none" stroke="#131722" stroke-width="1.7" stroke-linejoin="round"/><circle cx="0" cy="0" r="2.7" fill="none" stroke="#131722" stroke-width="1.6"/></svg>
<svg style="position:absolute;left:0;top:855px" width="270" height="55" viewBox="0 855 270 55"><g stroke="#fff" stroke-width="5" stroke-linejoin="round" fill="#fff"><path d="M16.2 869H33.9V890.9H24.7V877.8H16.2Z"/><circle cx="41.4" cy="873.2" r="4.2"/><path d="M49.1 869H60.2L52.8 890.9H41.7Z"/><text x="71.1" y="890.9" font-family="Liberation Sans, sans-serif" font-weight="bold" font-size="31.8" textLength="181.6" lengthAdjust="spacingAndGlyphs">TradingView</text></g><g fill="#131722"><path d="M16.2 869H33.9V890.9H24.7V877.8H16.2Z"/><circle cx="41.4" cy="873.2" r="4.2"/><path d="M49.1 869H60.2L52.8 890.9H41.7Z"/><text x="71.1" y="890.9" font-family="Liberation Sans, sans-serif" font-weight="bold" font-size="31.8" textLength="181.6" lengthAdjust="spacingAndGlyphs">TradingView</text></g></svg>
</body></html>
